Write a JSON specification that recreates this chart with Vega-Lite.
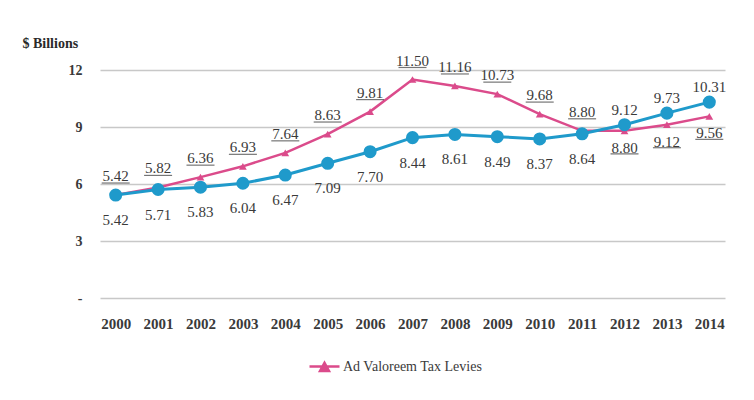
{
  "$schema": "https://vega.github.io/schema/vega-lite/v6.json",
  "width": 625,
  "height": 228,
  "autosize": {"type": "none"},
  "padding": {"left": 100, "top": 70, "right": 29, "bottom": 102},
  "background": "white",
  "config": {
    "view": {"stroke": null},
    "font": "'Liberation Serif', 'DejaVu Serif', serif",
    "text": {"font": "'Liberation Serif', 'DejaVu Serif', serif"},
    "legend": {"labelFont": "'Liberation Serif', 'DejaVu Serif', serif"}
  },
  "data": {
    "values": [
      {"year": 2000, "series": "Ad Valoreem Tax Levies", "value": 5.42},
      {"year": 2001, "series": "Ad Valoreem Tax Levies", "value": 5.82},
      {"year": 2002, "series": "Ad Valoreem Tax Levies", "value": 6.36},
      {"year": 2003, "series": "Ad Valoreem Tax Levies", "value": 6.93},
      {"year": 2004, "series": "Ad Valoreem Tax Levies", "value": 7.64},
      {"year": 2005, "series": "Ad Valoreem Tax Levies", "value": 8.63},
      {"year": 2006, "series": "Ad Valoreem Tax Levies", "value": 9.81},
      {"year": 2007, "series": "Ad Valoreem Tax Levies", "value": 11.50},
      {"year": 2008, "series": "Ad Valoreem Tax Levies", "value": 11.16},
      {"year": 2009, "series": "Ad Valoreem Tax Levies", "value": 10.73},
      {"year": 2010, "series": "Ad Valoreem Tax Levies", "value": 9.68},
      {"year": 2011, "series": "Ad Valoreem Tax Levies", "value": 8.80},
      {"year": 2012, "series": "Ad Valoreem Tax Levies", "value": 8.80},
      {"year": 2013, "series": "Ad Valoreem Tax Levies", "value": 9.12},
      {"year": 2014, "series": "Ad Valoreem Tax Levies", "value": 9.56},
      {"year": 2000, "series": "Other", "value": 5.42},
      {"year": 2001, "series": "Other", "value": 5.71},
      {"year": 2002, "series": "Other", "value": 5.83},
      {"year": 2003, "series": "Other", "value": 6.04},
      {"year": 2004, "series": "Other", "value": 6.47},
      {"year": 2005, "series": "Other", "value": 7.09},
      {"year": 2006, "series": "Other", "value": 7.70},
      {"year": 2007, "series": "Other", "value": 8.44},
      {"year": 2008, "series": "Other", "value": 8.61},
      {"year": 2009, "series": "Other", "value": 8.49},
      {"year": 2010, "series": "Other", "value": 8.37},
      {"year": 2011, "series": "Other", "value": 8.64},
      {"year": 2012, "series": "Other", "value": 9.12},
      {"year": 2013, "series": "Other", "value": 9.73},
      {"year": 2014, "series": "Other", "value": 10.31}
    ]
  },
  "encoding": {
    "x": {
      "field": "year", "type": "ordinal",
      "scale": {"type": "point", "padding": 0.37},
      "axis": {
        "title": null, "labelAngle": 0, "domain": false, "ticks": false,
        "labelPadding": 18, "labelFontSize": 15, "labelFontWeight": "bold",
        "labelColor": "#3a3a3a"
      }
    },
    "y": {
      "field": "value", "type": "quantitative",
      "scale": {"domain": [0, 12]},
      "axis": {
        "values": [0, 3, 6, 9, 12],
        "labelExpr": "datum.value == 0 ? '-' : datum.label",
        "domain": false, "ticks": false, "labelPadding": 18,
        "labelFontSize": 14, "labelFontWeight": "bold", "labelColor": "#3a3a3a",
        "gridColor": "#c8c8c8", "gridWidth": 1.5,
        "title": "$ Billions", "titleAngle": 0, "titleX": -78, "titleY": -27,
        "titleAlign": "left", "titleBaseline": "middle",
        "titleFontSize": 14,
        "titleFontWeight": "bold", "titleColor": "#2a2a2a"
      }
    }
  },
  "layer": [
    {
      "transform": [{"filter": "datum.series == 'Ad Valoreem Tax Levies'"}],
      "mark": {"type": "line", "strokeWidth": 2.5, "point": {"shape": "triangle-up", "size": 60, "filled": true}},
      "encoding": {
        "color": {
          "field": "series", "type": "nominal",
          "scale": {"domain": ["Ad Valoreem Tax Levies"], "range": ["#DB4B8B"]},
          "legend": {
            "title": null, "orient": "none", "legendX": 208, "legendY": 280,
            "symbolType": "M-1,0L1,0M-0.3,0.3L0,-0.25L0.3,0.3Z",
            "symbolSize": 900, "symbolStrokeWidth": 2.5,
            "labelFontSize": 14, "labelColor": "#3a3a3a",
            "labelOffset": 2,
            "encode": {
              "symbols": {"update": {"fill": {"value": "#DB4B8B"}, "stroke": {"value": "#DB4B8B"}}}
            }
          }
        }
      }
    },
    {
      "transform": [{"filter": "datum.series == 'Other'"}],
      "mark": {"type": "line", "strokeWidth": 3, "color": "#1F9ACB", "point": {"size": 170, "filled": true, "color": "#1F9ACB"}}
    },
    {
      "transform": [{"filter": "datum.series == 'Ad Valoreem Tax Levies' && datum.year <= 2011"}],
      "mark": {"type": "text", "dy": -19, "fontSize": 15, "color": "#3a3a3a", "baseline": "middle"},
      "encoding": {"text": {"field": "value", "type": "quantitative", "format": ".2f"}}
    },
    {
      "transform": [{"filter": "datum.series == 'Ad Valoreem Tax Levies' && datum.year >= 2012"}],
      "mark": {"type": "text", "dy": 17, "fontSize": 15, "color": "#3a3a3a", "baseline": "middle"},
      "encoding": {"text": {"field": "value", "type": "quantitative", "format": ".2f"}}
    },
    {
      "transform": [{"filter": "datum.series == 'Other' && datum.year <= 2011"}],
      "mark": {"type": "text", "dy": 25, "fontSize": 15, "color": "#3a3a3a", "baseline": "middle"},
      "encoding": {"text": {"field": "value", "type": "quantitative", "format": ".2f"}}
    },
    {
      "transform": [{"filter": "datum.series == 'Other' && datum.year >= 2012"}],
      "mark": {"type": "text", "dy": -15, "fontSize": 15, "color": "#3a3a3a", "baseline": "middle"},
      "encoding": {"text": {"field": "value", "type": "quantitative", "format": ".2f"}}
    },
    {
      "transform": [{"filter": "datum.series == 'Ad Valoreem Tax Levies' && datum.year <= 2011"}],
      "mark": {"type": "tick", "orient": "horizontal", "size": 28, "thickness": 1.2, "color": "#3a3a3a", "yOffset": -12}
    },
    {
      "transform": [{"filter": "datum.series == 'Ad Valoreem Tax Levies' && datum.year >= 2012"}],
      "mark": {"type": "tick", "orient": "horizontal", "size": 28, "thickness": 1.2, "color": "#3a3a3a", "yOffset": 23}
    }
  ]
}
